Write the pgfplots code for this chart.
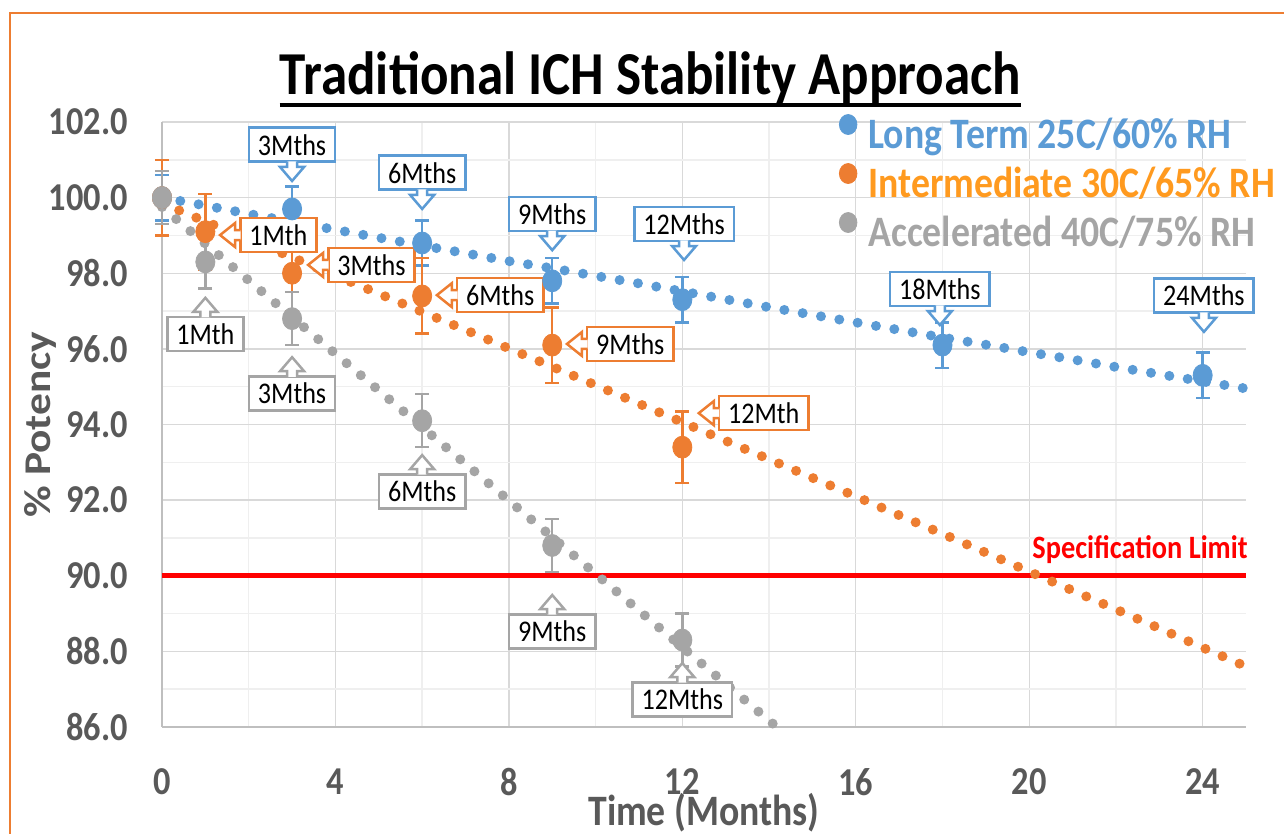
\documentclass[border=0pt]{standalone}
\usepackage{fontspec}
\setmainfont{Carlito}[FakeStretch=0.87]
\newfontfamily\rotfont{Carlito}
\usepackage{pgfplots}
\pgfplotsset{compat=1.18}
\definecolor{ltblue}{HTML}{5B9BD5}
\definecolor{ltorange}{HTML}{ED7D31}
\definecolor{ltgray}{HTML}{A5A5A5}
\definecolor{txtorange}{HTML}{FF9A1F}
\definecolor{axgray}{HTML}{595959}
\definecolor{gridmaj}{HTML}{D9D9D9}
\definecolor{gridmin}{HTML}{EFEFEF}
\definecolor{axline}{HTML}{BFBFBF}
\definecolor{speccol}{HTML}{FF0000}

\tikzset{callbox/.style={fill=white, line width=1.25pt, inner xsep=4.5pt, inner ysep=0pt,
  minimum height=17pt, text=black, font=\fontsize{15}{15}\selectfont}}
% down-pointing callout (box above the tip)
\newcommand{\callD}[4]{%
  \node[callbox, draw=#3, anchor=south] (cb) at ([yshift=9pt]axis cs:#1,#2) {#4};
  \filldraw[#3, fill=white, line width=1.25pt, line join=miter]
    ([shift={(-2.5pt,0.8pt)}]cb.south) -- ([shift={(-2.5pt,-2pt)}]cb.south)
    -- ([shift={(-6pt,-2pt)}]cb.south) -- ([shift={(0pt,-9pt)}]cb.south)
    -- ([shift={(6pt,-2pt)}]cb.south) -- ([shift={(2.5pt,-2pt)}]cb.south)
    -- ([shift={(2.5pt,0.8pt)}]cb.south);
}
% left-pointing callout (box right of the tip)
\newcommand{\callL}[4]{%
  \node[callbox, draw=#3, anchor=west] (cb) at ([xshift=9.5pt]axis cs:#1,#2) {#4};
  \filldraw[#3, fill=white, line width=1.25pt, line join=miter]
    ([shift={(0.8pt,2.5pt)}]cb.west) -- ([shift={(-2pt,2.5pt)}]cb.west)
    -- ([shift={(-2pt,6pt)}]cb.west) -- ([shift={(-9.5pt,0pt)}]cb.west)
    -- ([shift={(-2pt,-6pt)}]cb.west) -- ([shift={(-2pt,-2.5pt)}]cb.west)
    -- ([shift={(0.8pt,-2.5pt)}]cb.west);
}
% up-pointing callout (box below the tip)
\newcommand{\callU}[4]{%
  \node[callbox, draw=#3, anchor=north] (cb) at ([yshift=-9pt]axis cs:#1,#2) {#4};
  \filldraw[#3, fill=white, line width=1.25pt, line join=miter]
    ([shift={(-2.5pt,-0.8pt)}]cb.north) -- ([shift={(-2.5pt,2pt)}]cb.north)
    -- ([shift={(-6pt,2pt)}]cb.north) -- ([shift={(0pt,9pt)}]cb.north)
    -- ([shift={(6pt,2pt)}]cb.north) -- ([shift={(2.5pt,2pt)}]cb.north)
    -- ([shift={(2.5pt,-0.8pt)}]cb.north);
}

\begin{document}
\begin{tikzpicture}
\useasboundingbox (0,0) rectangle (642pt,417pt);
\draw[ltorange, line width=1.2pt] (5pt,-20pt) rectangle (700pt,410.5pt);

\node[anchor=base, inner sep=0pt, font=\fontsize{30.5}{31}\selectfont\bfseries] (T)
  at (325.25pt,369.5pt) {Traditional ICH Stability Approach};
\draw[line width=2pt] ([yshift=-5pt]T.base west) -- ([yshift=-5pt]T.base east);

\begin{axis}[
  at={(81pt,53.5pt)}, anchor=south west,
  scale only axis, width=542pt, height=302.5pt,
  xmin=0, xmax=25, ymin=86, ymax=102,
  xtick={0,4,...,24}, minor xtick={2,6,...,22},
  ytick={86,88,...,102}, minor ytick={87,89,...,101},
  grid=both,
  major grid style={gridmaj, line width=0.7pt},
  minor grid style={gridmin, line width=0.7pt},
  axis lines*=left,
  axis line style={draw=axline, line width=0.8pt},
  major tick length=0pt, minor tick length=0pt,
  clip=false,
  /pgf/number format/assume math mode=true,
  tick label style={font=\fontsize{19.75}{20}\selectfont\bfseries, text=axgray},
  yticklabel style={/pgf/number format/fixed, /pgf/number format/fixed zerofill,
    /pgf/number format/precision=1, inner sep=0pt, anchor=east, xshift=-17pt},
  xticklabel style={inner sep=0pt, anchor=north, yshift=-20.5pt},
  xlabel={Time (Months)},
  xlabel style={at={(axis description cs:0.5,-0.162)}, anchor=base, inner sep=0pt,
    font=\fontsize{21.7}{22}\selectfont\bfseries, text=axgray},
  ylabel={\% Potency},
  ylabel style={at={(axis description cs:-0.1125,0.5)}, anchor=center, inner sep=0pt,
    rotate=-90, xscale=0.87, rotate=90,
    font=\fontsize{21.7}{22}\rotfont\bfseries, text=axgray},
  legend style={at={(0.6245,1.013)}, anchor=north west, draw=none, fill=none,
    inner sep=0pt, outer sep=0pt, row sep=3.5pt, column sep=5.5pt,
    font=\fontsize{21.7}{22}\selectfont\bfseries,
    nodes={inner sep=0pt, text height=16pt, text depth=4pt}},
  legend cell align=left,
  legend image code/.code={\fill[#1] (0pt,5.8pt) ellipse [x radius=4.4pt, y radius=5pt];},
]
\addlegendimage{ltblue}
\addlegendentry{\textcolor{ltblue}{Long Term 25C/60\% RH}}
\addlegendimage{ltorange}
\addlegendentry{\textcolor{txtorange}{Intermediate 30C/65\% RH}}
\addlegendimage{ltgray}
\addlegendentry{\textcolor{ltgray}{Accelerated 40C/75\% RH}}

% specification limit
\addplot[speccol, line width=2.75pt, forget plot] coordinates {(0,90) (25,90)};

% measured data with error bars
\addplot[ltblue, only marks, mark=*, mark size=5.5pt, mark options={xscale=0.87}, forget plot,
  error bars/.cd, y dir=both, y explicit,
  error bar style={line width=1.25pt},
  error mark options={rotate=90, mark size=3.5pt, line width=1.25pt, ltblue}]
coordinates {(0,100.0) +- (0,0.6) (3,99.7) +- (0,0.6) (6,98.8) +- (0,0.6) (9,97.8) +- (0,0.6)
  (12,97.3) +- (0,0.6) (18,96.1) +- (0,0.6) (24,95.3) +- (0,0.6)};
\addplot[ltorange, only marks, mark=*, mark size=5.5pt, mark options={xscale=0.87}, forget plot,
  error bars/.cd, y dir=both, y explicit,
  error bar style={line width=1.25pt},
  error mark options={rotate=90, mark size=3.5pt, line width=1.25pt, ltorange}]
coordinates {(0,100.0) +- (0,1.0) (1,99.1) +- (0,1.0) (3,98.0) +- (0,1.0) (6,97.4) +- (0,1.0)
  (9,96.1) +- (0,1.0) (12,93.4) +- (0,0.95)};
\addplot[ltgray, only marks, mark=*, mark size=5.5pt, mark options={xscale=0.87}, forget plot,
  error bars/.cd, y dir=both, y explicit,
  error bar style={line width=1.25pt},
  error mark options={rotate=90, mark size=3.5pt, line width=1.25pt, ltgray}]
coordinates {(0,100.0) +- (0,0.7) (1,98.3) +- (0,0.7) (3,96.8) +- (0,0.7) (6,94.1) +- (0,0.7)
  (9,90.8) +- (0,0.7) (12,88.3) +- (0,0.7)};

% trend lines
\addplot[ltblue, line width=5pt, line cap=round, dash pattern=on 0pt off 9.3pt, forget plot]
coordinates {(0,100.00) (1,99.79) (2,99.57) (3,99.36) (4,99.15) (5,98.94) (6,98.73) (7,98.53)
  (8,98.32) (9,98.13) (10,97.93) (11,97.73) (12,97.52) (13,97.31) (14,97.10) (15,96.90)
  (16,96.70) (17,96.50) (18,96.30) (19,96.11) (20,95.91) (21,95.72) (22,95.52) (23,95.33)
  (24,95.14) (25,94.95)};
\addplot[ltorange, line width=5pt, line cap=round, dash pattern=on 0pt off 9.3pt, forget plot]
coordinates {(0,99.85) (1,99.37) (2,98.90) (3,98.42) (4,97.94) (5,97.46) (6,96.98) (7,96.50)
  (8,96.01) (9,95.53) (10,95.04) (11,94.55) (12,94.06) (13,93.57) (14,93.08) (15,92.59)
  (16,92.10) (17,91.60) (18,91.11) (19,90.61) (20,90.11) (21,89.61) (22,89.11) (23,88.61)
  (24,88.10) (25,87.60)};
\addplot[ltgray, line width=5pt, line cap=round, dash pattern=on 0pt off 9.3pt, forget plot]
coordinates {(0,99.75) (1,98.78) (2,97.81) (3,96.84) (4,95.87) (5,94.90) (6,93.93) (7,92.96)
  (8,91.99) (9,91.02) (10,90.05) (11,89.08) (12,88.11) (13,87.14) (14,86.17) (14.18,86.0)};

\node[anchor=base east, inner sep=0pt, text=speccol, font=\fontsize{16.3}{17}\selectfont\bfseries]
  at ([yshift=8.5pt, xshift=1pt]axis cs:25,90) {Specification Limit};

% callouts
\callD{3}{100.44}{ltblue}{3Mths}
\callD{6}{99.70}{ltblue}{6Mths}
\callD{9}{98.61}{ltblue}{9Mths}
\callD{12.04}{98.35}{ltblue}{12Mths}
\callD{17.94}{96.63}{ltblue}{18Mths}
\callD{24.03}{96.45}{ltblue}{24Mths}

\callL{1.34}{99.01}{ltorange}{1Mth}
\callL{3.37}{98.22}{ltorange}{3Mths}
\callL{6.34}{97.42}{ltorange}{6Mths}
\callL{9.34}{96.13}{ltorange}{9Mths}
\callL{12.38}{94.30}{ltorange}{12Mth}

\callU{1}{97.35}{ltgray}{1Mth}
\callU{3}{95.78}{ltgray}{3Mths}
\callU{6}{93.19}{ltgray}{6Mths}
\callU{9}{89.49}{ltgray}{9Mths}
\callU{12}{87.69}{ltgray}{12Mths}
\end{axis}
\end{tikzpicture}
\end{document}
